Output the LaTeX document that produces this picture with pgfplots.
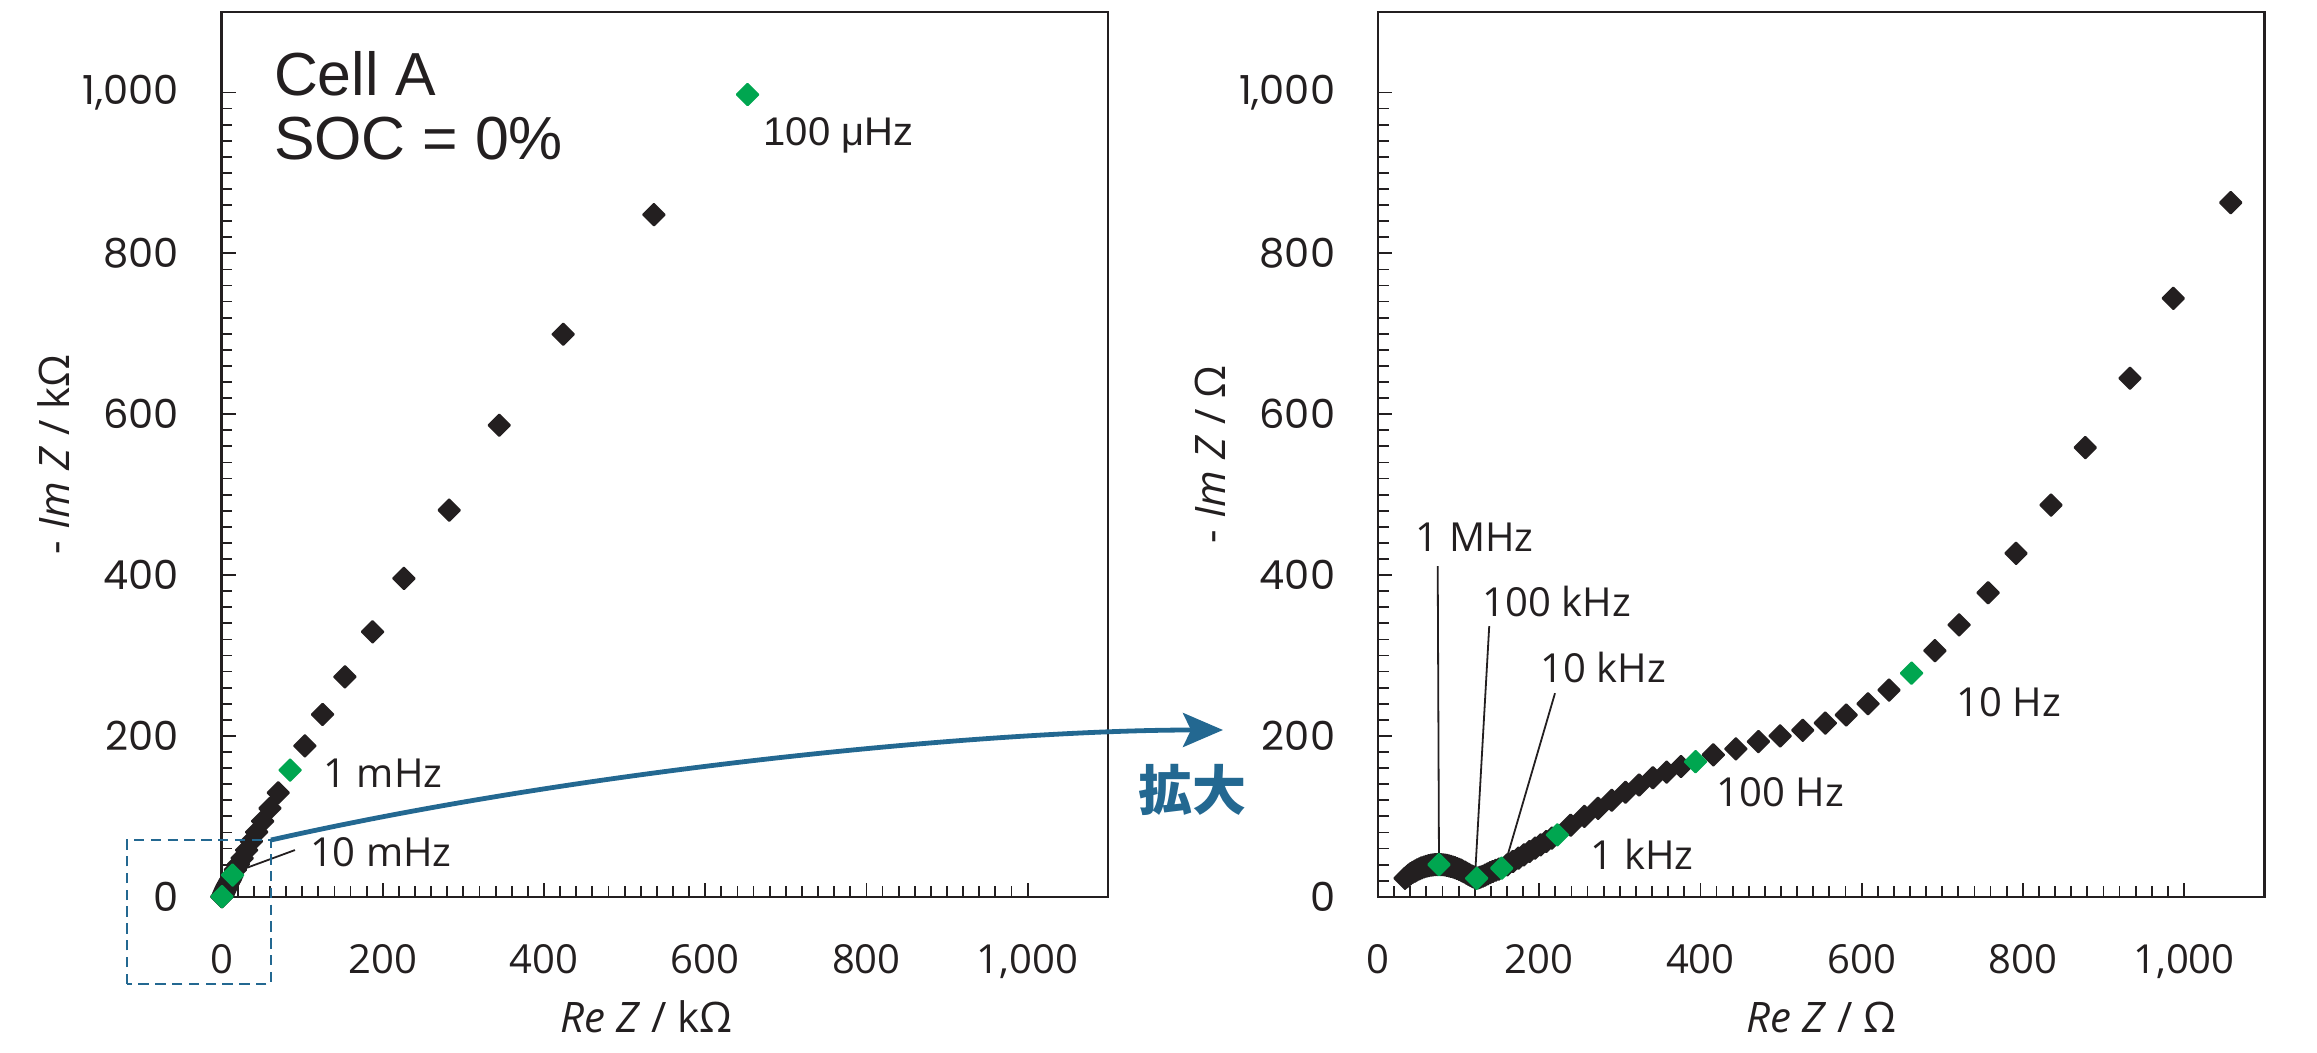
\documentclass[border=0pt]{standalone}
\usepackage{fontspec}
\setmainfont{Open Sans}
\newfontfamily\yfont{Poppins}
\newfontfamily\libfont{Liberation Sans}
\newfontfamily\cjk{Noto Sans CJK JP}
\usepackage{pgfplots}
\pgfplotsset{compat=1.18}
\usetikzlibrary{arrows.meta}
\definecolor{mk}{HTML}{231F20}
\definecolor{gr}{HTML}{00A650}
\definecolor{bl}{HTML}{236891}

\tikzset{lbl/.style={anchor=base west, inner sep=0pt, text=mk, font=\fontsize{10}{12}\selectfont}}
\pgfplotsset{
  nyq/.style={
    scale only axis, width=221.65pt, height=221.2pt,
    xmin=0, xmax=1100, ymin=0, ymax=1100,
    xtick={0,200,...,1000}, ytick={0,200,...,1000},
    minor tick num=9,
    tick align=inside, xtick pos=left, ytick pos=left,
    major tick length=3.5pt, minor tick length=2.7pt,
    axis line style={line width=0.6pt, draw=mk},
    every tick/.style={line width=0.45pt, draw=mk},
    /pgf/number format/1000 sep={,},
    /pgf/number format/assume math mode=true,
    x tick label style={font=\fontsize{10}{12}\selectfont, text=mk, inner sep=0pt, yshift=-11.6pt},
    y tick label style={font=\yfont\fontsize{10}{12}\selectfont, text=mk, inner sep=0pt, xshift=-10.5pt},
    every axis x label/.style={at={(axis description cs:0.5,-0.1537)}, anchor=base, font=\fontsize{10.5}{12}\selectfont, text=mk},
    every axis y label/.style={at={(axis description cs:-0.172,0.5)}, rotate=90, anchor=base, font=\fontsize{10.5}{12}\selectfont, text=mk},
    clip=false,
  },
  blk/.style={only marks, mark=square*, mark size=1.9pt, mark options={rotate=45, fill=mk, draw=mk, line width=0.5pt, line join=round}},
  grn/.style={only marks, mark=square*, mark size=1.9pt, mark options={rotate=45, fill=gr, draw=gr, line width=0.5pt, line join=round}},
}

\begin{document}
\begin{tikzpicture}
% ---------------- left: full spectrum (kOhm) ----------------
\begin{axis}[nyq, at={(55.4pt,38.8pt)}, anchor=south west,
  xlabel={\textit{Re Z} / kΩ}, ylabel={- \textit{Im Z} / kΩ},
  xlabel style={at={(axis description cs:0.479,-0.1537)}}]
\addplot[blk] coordinates {
 (0.3,0.1) (0.6,0.25) (1.5,1.8) (2,2.8) (2.5,3.9) (3,5) (3.5,6.2) (4,7.5)
 (4.6,8.8) (5.2,10.2) (5.8,11.6) (6.5,13) (7.2,14.4) (8,15.8) (8.8,17.3)
 (9.6,18.8) (10.5,20.5) (11.4,22.2) (12.4,24.4)
 (17,33.5) (21,40.5) (25.5,48) (31,58) (37,69) (43.5,80.5) (51,94) (60,110) (70.3,129.3)
 (103.3,187.7) (125.3,226.7) (153,273.5) (187.3,329.4) (226.2,395.8)
 (282.4,480.7) (344.5,586.3) (423.8,699.4) (536.4,848)
};
\addplot[grn] coordinates {(0.5,0.2) (13.6,27) (85,157.5) (652.6,997.4)};
\draw[mk, line width=0.45pt] (axis cs:91,58.1) -- (axis cs:12.4,29.1);
\node[lbl] at (axis cs:108.7,37.3) {10 mHz};
\node[lbl] at (axis cs:125.7,136) {1 mHz};
\node[lbl, font=\libfont\fontsize{10}{12}\selectfont] at (axis cs:671.6,934.4) {100 μHz};
\node[lbl, font=\libfont\fontsize{15.2}{17}\selectfont] at (axis cs:64.1,996.6) {Cell A};
\node[lbl, font=\libfont\fontsize{15.2}{17}\selectfont] at (axis cs:64.1,917) {SOC = 0\%};
\end{axis}

% ---------------- right: zoom (Ohm) ----------------
\begin{axis}[nyq, at={(344.5pt,38.8pt)}, anchor=south west,
  xlabel={\textit{Re Z} / Ω}, ylabel={- \textit{Im Z} / Ω}]
\addplot[blk] coordinates {
 (33.5,23) (36,25) (38,27) (40.5,28.8) (43,30.5) (46,32) (48.5,33.5) (51.5,34.8) (54,36)
 (57,37) (60,38) (63,38.8) (66,39.3) (68.5,39.7) (71,40) (73.5,40.1)
 (78,40) (80.5,39.8) (83,39.5) (85.5,39) (88,38.4) (90.5,37.8) (93,37) (95.5,36.2) (98,35.2)
 (100.5,34.2) (103,33.1) (105,32) (107.5,30.8) (109.5,29.5) (112,28.2) (114,27) (116.5,25.8) (118.5,24.8) (120.5,23.8)
 (124.5,23.5) (127,24.5) (130,25.5) (133,27) (136,28.5) (139,30) (142.5,31.5) (146,33) (150,34.5)
 (160.4,39.7) (167.3,43.9) (174.2,48) (181.1,52.2) (188,56.3) (194.9,60.5) (201.8,64.6) (208.7,68.8) (215.6,72.9)
 (239,89) (256,100) (273,110) (290,120) (307,130) (324,139) (341,148) (358,155) (376,162)
 (416,176.5) (444,184) (472,193) (499,200) (527,207) (555,216) (581,226) (608,240) (634,257)
 (691,306) (721,338) (757,378) (791.6,427) (835,487) (877.5,558.5) (933,644.7) (986.7,744) (1058,863)
};
\addplot[grn] coordinates {(75.7,40) (122.4,23) (153.5,35.6) (222.5,77) (394,168) (662,278)};
\draw[mk, line width=0.45pt] (axis cs:74.1,411.2) -- (axis cs:75.7,38.3);
\draw[mk, line width=0.45pt] (axis cs:138,336.5) -- (axis cs:120.3,23.7);
\draw[mk, line width=0.45pt] (axis cs:219.6,253.1) -- (axis cs:155.5,33.4);
\node[lbl] at (axis cs:45.9,429) {1 MHz};
\node[lbl] at (axis cs:128.7,348) {100 kHz};
\node[lbl] at (axis cs:201,266) {10 kHz};
\node[lbl] at (axis cs:263,34) {1 kHz};
\node[lbl] at (axis cs:419.4,112) {100 Hz};
\node[lbl] at (axis cs:717,223.7) {10 Hz};
\end{axis}

% ---------------- zoom annotation ----------------
\draw[bl, line width=0.6pt, dash pattern=on 2.6pt off 1.6pt] (31.7pt,17pt) rectangle (67.75pt,53pt);
\draw[bl, line width=1.2pt, -{Stealth[length=10pt,width=8.5pt,inset=2pt]}]
  (67.75pt,53pt) .. controls (150pt,71.5pt) and (250pt,80.5pt) .. (305.75pt,80.5pt);
\node[inner sep=0pt, text=bl, font=\cjk\bfseries\fontsize{13.5}{15}\selectfont] at (298.1pt,65.5pt) {拡大};

\pgfresetboundingbox
\useasboundingbox (0pt,0pt) rectangle (579.25pt,263pt);
\end{tikzpicture}
\end{document}
